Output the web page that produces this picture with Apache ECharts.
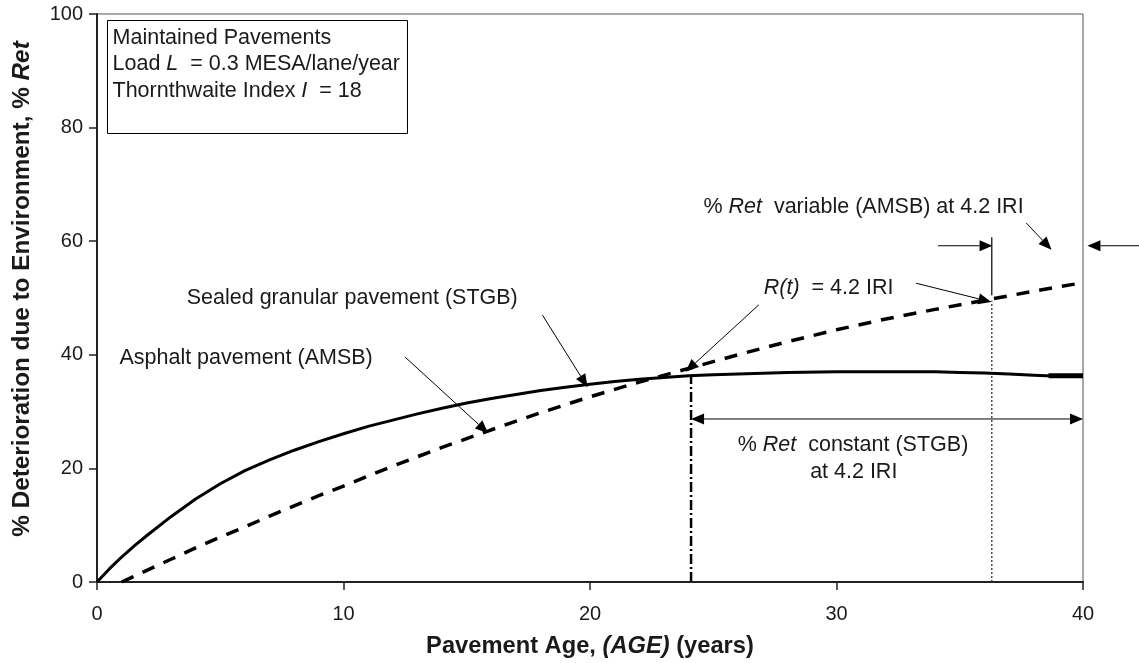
<!DOCTYPE html>
<html>
<head>
<meta charset="utf-8">
<script src="https://cdn.jsdelivr.net/npm/echarts@6/dist/echarts.min.js"></script>
<style>
html,body{margin:0;padding:0;background:#fff;}
#chart{width:1139px;height:663px;}
</style>
</head>
<body>
<div id="chart"></div>
<script>
// ---- data ----
const xTicks = [0, 10, 20, 30, 40];
const yTicks = [0, 20, 40, 60, 80, 100];

// Sealed granular pavement (STGB) - solid
const ageSTGB = [0, 0.5, 1, 1.5, 2, 3, 4, 5, 6, 7, 8, 9, 10, 11, 12, 13, 14, 15, 16, 17, 18, 19, 20, 21, 22, 23, 24, 25, 26, 28, 30, 32, 34, 35, 36, 37, 38, 38.5, 40];
const retSTGB = [0, 2.3, 4.4, 6.3, 8.1, 11.5, 14.6, 17.3, 19.6, 21.5, 23.2, 24.7, 26.1, 27.4, 28.5, 29.6, 30.6, 31.5, 32.3, 33.0, 33.7, 34.3, 34.8, 35.3, 35.7, 36.0, 36.3, 36.5, 36.6, 36.9, 37.0, 37.0, 37.0, 36.9, 36.8, 36.6, 36.4, 36.3, 36.3];
const ageSTGBEnd = [38.6, 40];
const retSTGBEnd = [36.3, 36.3];

// Asphalt pavement (AMSB) - dashed
const ageAMSB = [1, 2, 3, 4, 5, 6, 7, 8, 9, 10, 12, 14, 16, 18, 20, 22, 24, 26, 28, 30, 32, 34, 36, 38, 40];
const retAMSB = [0, 2, 4, 6, 7.9, 9.7, 11.6, 13.4, 15.2, 16.9, 20.4, 23.7, 26.8, 29.8, 32.6, 35.2, 37.6, 40.0, 42.3, 44.4, 46.3, 48.0, 49.6, 51.2, 52.7];

// R(t) = 4.2 IRI reached
const ageLimitSTGB = [24.1, 24.1];
const retLimitSTGB = [0, 36.1];
const ageLimitAMSB = [36.3, 36.3];
const retLimitAMSB = [0, 49.5];
const ageMarkAMSB = [36.3, 36.3];
const retMarkAMSB = [50.5, 60.7];

const toPairs = (xs, ys) => xs.map((x, i) => [x, ys[i]]);

// ---- annotations (data coordinates) ----
const FONT = "'Liberation Sans', Arial, sans-serif";
const annTexts = [
  { t: 'Maintained Pavements', at: [0.63, 95.8], align: 'left' },
  { t: 'Load {i|L}  = 0.3 MESA/lane/year', at: [0.63, 91.2], align: 'left' },
  { t: 'Thornthwaite Index {i|I}  = 18', at: [0.63, 86.4], align: 'left' },
  { t: '% {i|Ret}  variable (AMSB) at 4.2 IRI', at: [24.6, 66.0], align: 'left' },
  { t: 'Sealed granular pavement (STGB)', at: [3.64, 50.0], align: 'left' },
  { t: 'Asphalt pavement (AMSB)', at: [0.91, 39.4], align: 'left' },
  { t: '{i|R(t)}  = 4.2 IRI', at: [27.05, 51.8], align: 'left' },
  { t: '% {i|Ret}  constant (STGB)', at: [30.67, 24.1], align: 'center' },
  { t: 'at 4.2 IRI', at: [30.7, 19.4], align: 'center' }
];
const annArrows = [
  { from: [12.5, 39.6], to: [15.87, 26.2] },
  { from: [18.07, 47.0], to: [19.9, 34.3] },
  { from: [26.85, 48.8], to: [23.88, 37.0] },
  { from: [33.23, 52.6], to: [36.28, 49.3] },
  { from: [37.7, 63.2], to: [38.72, 58.5] },
  { from: [34.12, 59.2], to: [36.33, 59.2] },
  { from: [42.4, 59.2], to: [40.18, 59.2] },
  { from: [24.1, 28.7], to: [40.0, 28.7], both: true }
];
const noteBox = { from: [0.39, 98.9], to: [12.58, 79.0] };

const chart = echarts.init(document.getElementById('chart'), null, { renderer: 'canvas' });

const option = {
  animation: false,
  backgroundColor: '#fff',
  grid: { left: 97, right: 56, top: 14, bottom: 81, containLabel: false, outerBoundsMode: 'none', show: true, borderColor: '#555', borderWidth: 1, backgroundColor: 'transparent' },
  xAxis: {
    type: 'value', min: 0, max: 40, interval: 10,
    axisLine: { show: true, lineStyle: { color: '#222', width: 2 } },
    axisTick: { show: true, inside: false, length: 8, lineStyle: { color: '#222', width: 1.5 } },
    splitLine: { show: false },
    axisLabel: { margin: 22, fontSize: 20, fontFamily: FONT, color: '#1a1a1a', formatter: v => String(v) },
    name: '{a|Pavement Age, }{b|(AGE)}{a| (years)}',
    nameLocation: 'middle', nameGap: 52,
    nameTextStyle: {
      rich: {
        a: { fontSize: 23.7, fontWeight: 'bold', fontFamily: FONT, color: '#1a1a1a' },
        b: { fontSize: 23.7, fontWeight: 'bold', fontStyle: 'italic', fontFamily: FONT, color: '#1a1a1a' }
      }
    }
  },
  yAxis: {
    type: 'value', min: 0, max: 100, interval: 20,
    axisLine: { show: true, lineStyle: { color: '#222', width: 2 } },
    axisTick: { show: true, inside: false, length: 8, lineStyle: { color: '#222', width: 1.5 } },
    splitLine: { show: false },
    axisLabel: { margin: 14, fontSize: 20, fontFamily: FONT, color: '#1a1a1a' },
    name: '{a|% Deterioration due to Environment, % }{b|Ret}',
    nameLocation: 'middle', nameGap: 63,
    nameTextStyle: {
      padding: [0, 0, 0, 18],
      rich: {
        a: { fontSize: 24.3, fontWeight: 'bold', fontFamily: FONT, color: '#1a1a1a' },
        b: { fontSize: 24.3, fontWeight: 'bold', fontStyle: 'italic', fontFamily: FONT, color: '#1a1a1a' }
      }
    }
  },
  series: [
    {
      name: 'STGB', type: 'line', data: toPairs(ageSTGB, retSTGB), showSymbol: false, symbol: 'none',
      smooth: false,
      lineStyle: { color: '#000', width: 3, join: 'round' }, z: 5
    },
    {
      name: 'STGB end', type: 'line', data: toPairs(ageSTGBEnd, retSTGBEnd), symbol: 'none',
      lineStyle: { color: '#000', width: 5 }, z: 5
    },
    {
      name: 'AMSB', type: 'line', data: toPairs(ageAMSB, retAMSB), showSymbol: false, symbol: 'none',
      smooth: false,
      lineStyle: { color: '#000', width: 3.5, type: [13, 10] }, z: 4
    },
    {
      name: 'STGB limit', type: 'line', data: toPairs(ageLimitSTGB, retLimitSTGB), symbol: 'none',
      lineStyle: { color: '#000', width: 2.5, type: [10, 3, 2, 3] }, z: 3
    },
    {
      name: 'AMSB limit', type: 'line', data: toPairs(ageLimitAMSB, retLimitAMSB), symbol: 'none',
      lineStyle: { color: '#333', width: 1.3, type: [2, 2] }, z: 3
    },
    {
      name: 'AMSB mark', type: 'line', data: toPairs(ageMarkAMSB, retMarkAMSB), symbol: 'none',
      lineStyle: { color: '#000', width: 1.2 }, z: 3
    }
  ]
};
chart.setOption(option);

function px(p) { return chart.convertToPixel({ gridIndex: 0 }, p); }

function arrowHead(tip, from, len, half) {
  const dx = tip[0] - from[0], dy = tip[1] - from[1];
  const d = Math.hypot(dx, dy) || 1;
  const ux = dx / d, uy = dy / d;
  const bx = tip[0] - ux * len, by = tip[1] - uy * len;
  return {
    base: [bx, by],
    poly: {
      type: 'polygon', z: 100,
      shape: { points: [tip, [bx - uy * half, by + ux * half], [bx + uy * half, by - ux * half]] },
      style: { fill: '#000' }
    }
  };
}

const graphics = [];
// note box
{
  const a = px(noteBox.from), b = px(noteBox.to);
  graphics.push({
    type: 'rect', z: 100,
    shape: { x: Math.round(a[0]) + 0.5, y: Math.round(a[1]) + 0.5, width: Math.round(b[0] - a[0]), height: Math.round(b[1] - a[1]) },
    style: { fill: 'transparent', stroke: '#000', lineWidth: 1 }
  });
}
// arrows
annArrows.forEach(ar => {
  const p1 = px(ar.from), p2 = px(ar.to);
  const h2 = arrowHead(p2, p1, 13, 5.5);
  let start = p1;
  if (ar.both) {
    const h1 = arrowHead(p1, p2, 13, 5.5);
    graphics.push(h1.poly);
    start = h1.base;
  }
  graphics.push({
    type: 'line', z: 100,
    shape: { x1: start[0], y1: start[1], x2: h2.base[0], y2: h2.base[1] },
    style: { stroke: '#000', lineWidth: 1 }
  });
  graphics.push(h2.poly);
});
// texts
annTexts.forEach(tx => {
  const p = px(tx.at);
  graphics.push({
    type: 'text', z: 101, x: p[0], y: p[1],
    style: {
      text: tx.t,
      fontSize: 21.5, fontFamily: FONT, fill: '#1a1a1a',
      align: tx.align, verticalAlign: 'middle',
      textAlign: tx.align, textVerticalAlign: 'middle',
      rich: { i: { fontStyle: 'italic', fontSize: 21.5, fontFamily: FONT, fill: '#1a1a1a', color: '#1a1a1a' } }
    }
  });
});
chart.setOption({ graphic: graphics });
</script>
</body>
</html>
